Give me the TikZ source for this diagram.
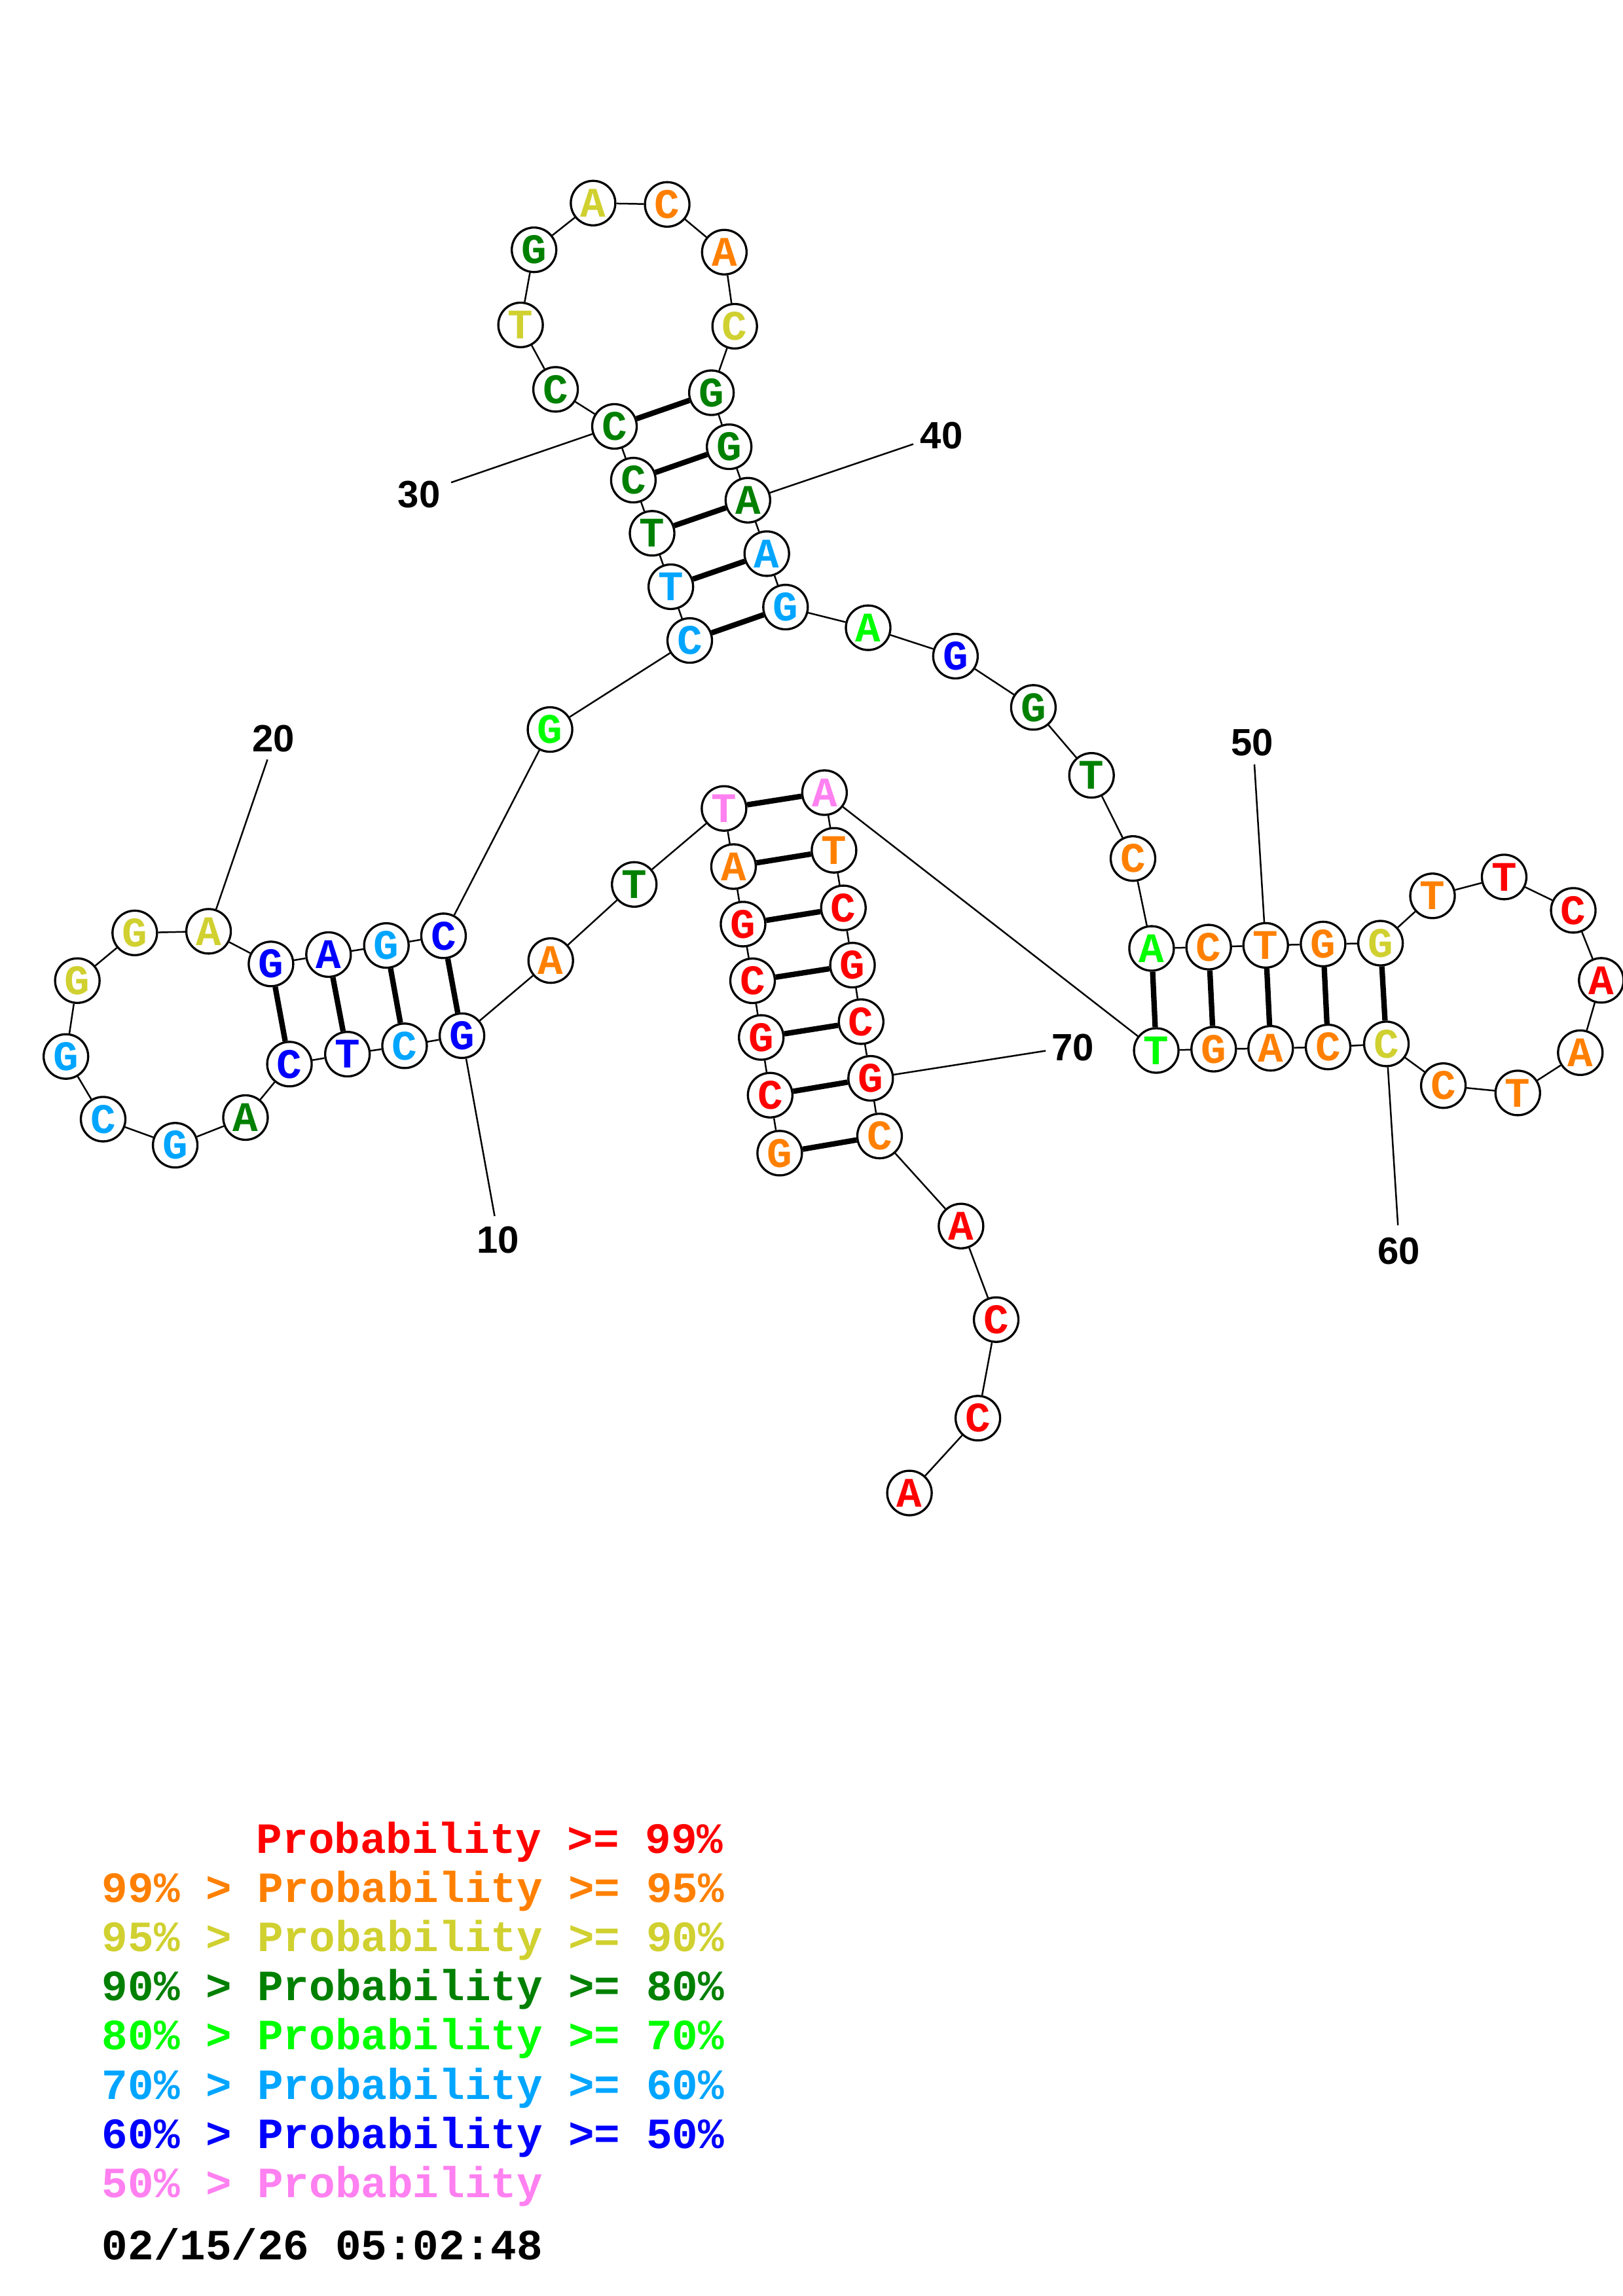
\documentclass[tikz,border=0pt]{standalone}
\usepackage{fontspec}
\newfontfamily\basefont{Liberation Mono}
\newfontfamily\numfont{Liberation Sans}
\definecolor{pr99}{RGB}{255,0,0}
\definecolor{pr95}{RGB}{255,128,0}
\definecolor{pr90}{RGB}{208,208,48}
\definecolor{pr80}{RGB}{0,128,0}
\definecolor{pr70}{RGB}{0,255,0}
\definecolor{pr60}{RGB}{0,165,255}
\definecolor{pr50}{RGB}{0,0,255}
\definecolor{prlow}{RGB}{255,128,240}

\begin{document}
\begin{tikzpicture}[x=0.018953cm,y=-0.018953cm,
		base/.style={circle,draw,line width=0.8pt,minimum size=0.576cm,inner sep=0pt,
			font=\basefont\bfseries\fontsize{15.5}{16}\selectfont},
		bb/.style={line width=0.6pt},
		pairbond/.style={line width=2pt},
		numlabel/.style={inner sep=0pt,font=\numfont\bfseries\fontsize{14}{15}\selectfont},
		legend/.style={anchor=base west,inner sep=0pt,
			font=\basefont\bfseries\fontsize{15.9}{17}\selectfont}]
	\useasboundingbox (0,0) rectangle (1108,1568);
	% bases: number / x / y / letter / colour
	\foreach \i/\x/\y/\b/\c in {
		1/532.3/787.5/G/pr95, 2/525.8/747.9/C/pr99, 3/519.7/708.5/G/pr99,
		4/513.8/669.8/C/pr99, 5/507.3/631.1/G/pr99, 6/500.8/591.8/A/pr95,
		7/494.3/552.1/T/prlow, 8/433/604/T/pr80, 9/376.0/656.0/A/pr95,
		10/315.4/707.3/G/pr50, 11/276.2/714.2/C/pr60, 12/237.2/719.9/T/pr50,
		13/197.6/726.7/C/pr50, 14/167.6/763.2/A/pr80, 15/119.6/782.1/G/pr60,
		16/70.4/764.3/C/pr60, 17/45.0/721.5/G/pr60, 18/52.8/669.7/G/pr90,
		19/92.0/637.1/G/pr90, 20/142.4/636.0/A/pr90, 21/185.0/658.3/G/pr50,
		22/224.3/651.9/A/pr50, 23/263.8/645.7/G/pr60, 24/302.8/639.1/C/pr50,
		25/375.5/498.2/G/pr70, 26/470.9/437.4/C/pr60, 27/458.0/400.7/T/pr60,
		28/445.2/364.2/T/pr80, 29/432.4/327.9/C/pr80, 30/419.5/291.2/C/pr80,
		31/379.3/265.9/C/pr80, 32/355.4/221.9/T/pr90, 33/364.6/170.6/G/pr80,
		34/404.9/138.7/A/pr90, 35/455.5/139.6/C/pr95, 36/494.5/172.2/A/pr95,
		37/501.6/222.8/C/pr90, 38/485.7/268.2/G/pr80, 39/497.8/305.1/G/pr80,
		40/510.6/341.6/A/pr80, 41/523.5/378.1/A/pr60, 42/536.3/414.6/G/pr60,
		43/592.7/428.7/A/pr70, 44/652.3/448.1/G/pr50, 45/705.5/483.1/G/pr80,
		46/745.2/529.5/T/pr80, 47/773.5/586.3/C/pr95, 48/786.2/647.7/A/pr70,
		49/825.2/646.8/C/pr95, 50/864.1/645.6/T/pr95, 51/903.3/644.7/G/pr95,
		52/942.5/644.1/G/pr90, 53/978.0/611.8/T/pr95, 54/1026.9/598.9/T/pr99,
		55/1074.1/621.7/C/pr99, 56/1093.2/669.5/A/pr99, 57/1078.9/718.9/A/pr95,
		58/1036.2/746.4/T/pr95, 59/985.4/741.4/C/pr95, 60/946.5/712.9/C/pr90,
		61/906.7/715.0/C/pr95, 62/867.5/715.9/A/pr95, 63/828.6/716.5/G/pr95,
		64/789.4/717.4/T/pr70, 65/562.9/541.3/A/prlow, 66/569.4/580.7/T/pr95,
		67/575.8/620.0/C/pr99, 68/582.0/659.1/G/pr99, 69/587.9/697.7/C/pr99,
		70/594.4/736.4/G/pr99, 71/600.5/775.8/C/pr95, 72/656.1/837.3/A/pr99,
		73/680.1/901.2/C/pr99, 74/667.6/968.5/C/pr99, 75/620.9/1019.6/A/pr99}
	\node[base,text=\c] (n\i) at (\x,\y) {\b};
	% backbone
	\foreach \i [evaluate=\i as \j using int(\i+1)] in {1,...,74}
	\draw[bb] (n\i) -- (n\j);
	% base pairs
	\foreach \a/\b in {1/71,2/70,3/69,4/68,5/67,6/66,7/65,
		10/24,11/23,12/22,13/21,26/42,27/41,28/40,29/39,30/38,
		48/64,49/63,50/62,51/61,52/60}
	\draw[pairbond] (n\a) -- (n\b);
	% position ticks
	\foreach \i/\x/\y/\lx/\ly in {10/337.7/830.5/340/847, 20/182.6/518.7/186.7/504.4,
		30/308/329.5/286.1/337.5, 40/623.5/303.3/642.8/297.6,
		50/856.4/522/854.8/507, 60/954.4/836.8/954.9/854.2, 70/713.9/717.6/732.4/715.2}{
		\coordinate (t\i) at (\x,\y);
		\draw[bb] (n\i) -- (t\i);
		\node[numlabel] (l\i) at (\lx,\ly) {\i};
	}
	% legend
	\node[legend,text=pr99] (k99) at (174.8,1265.5) {Probability >= 99\%};
	\node[legend,text=pr95] (k95) at (69.3,1299.1) {99\% > Probability >= 95\%};
	\node[legend,text=pr90] (k90) at (69.3,1332.7) {95\% > Probability >= 90\%};
	\node[legend,text=pr80] (k80) at (69.3,1366.3) {90\% > Probability >= 80\%};
	\node[legend,text=pr70] (k70) at (69.3,1399.9) {80\% > Probability >= 70\%};
	\node[legend,text=pr60] (k60) at (69.3,1433.5) {70\% > Probability >= 60\%};
	\node[legend,text=pr50] (k50) at (69.3,1467.1) {60\% > Probability >= 50\%};
	\node[legend,text=prlow] (klow) at (69.3,1500.7) {50\% > Probability};
	\node[legend] (date) at (69.3,1543.3) {02/15/26 05:02:48};
\end{tikzpicture}
\end{document}
